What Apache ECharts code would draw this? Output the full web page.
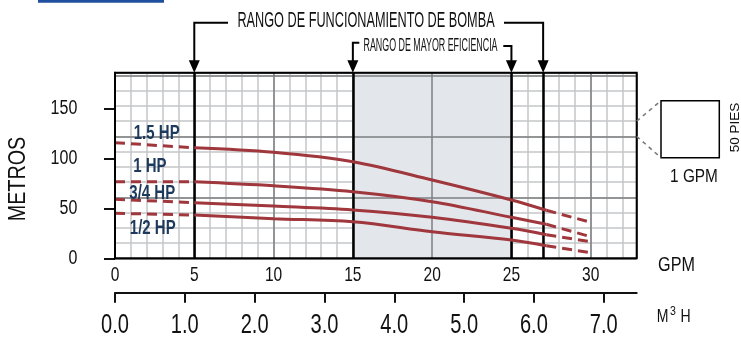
<!DOCTYPE html>
<html><head><meta charset="utf-8">
<script src="https://cdn.jsdelivr.net/npm/echarts@6/dist/echarts.min.js"></script>
<style>html,body{margin:0;padding:0;background:#fff}#c{width:741px;height:337px}</style>
</head><body><div id="c"></div>
<script>
// ---- data ----
const gpm  = [0, 5, 10, 15, 20, 25, 27.2, 30];
const hp15 = [115.6, 110.5, 106, 96.6, 78.3, 58.3, 48, 36];
const hp1  = [76.5, 76.5, 72.5, 66.6, 56.6, 41, 34, 21.6];
const hp34 = [59, 55.6, 52.2, 48.3, 41, 30, 23.5, 16.6];
const hp12 = [45, 43.3, 39.6, 36.6, 26.6, 18.3, 12.5, 5.6];
const curveNames = ['1.5 HP', '1 HP', '3/4 HP', '1/2 HP'];
const curveLabelAt = [[2.63, 125], [2.2, 91.6], [2.35, 64.3], [2.38, 30]];
const gpmTicks = [0, 5, 10, 15, 20, 25, 30];
const m3hTicks = [0, 1, 2, 3, 4, 5, 6, 7];
const metroTicks = [0, 50, 100, 150];
const pumpRange = [5, 27];
const effRange = [15, 25];
const GPM_MAX = 32.9, M_MAX = 185.6;
const FT = 0.3048;
const GPM_PER_M3H = 4.4029;

const RED = '#9f373d', NAVY = '#1d3a5c';
const SANS = '"Liberation Sans", Arial, sans-serif';

const chart = echarts.init(document.getElementById('c'), null, {renderer: 'canvas'});

const curves = [hp15, hp1, hp34, hp12];
const curveSeries = [];
curves.forEach((v, ci) => {
  const pts = gpm.map((g, i) => [g, v[i]]);
  const n = pts.length;
  const base = {type: 'line', xAxisIndex: 0, yAxisIndex: 0, symbol: 'none', silent: true, z: 5,
    animation: false, name: curveNames[ci]};
  curveSeries.push(Object.assign({}, base, {data: pts.slice(0, 2),
    lineStyle: {color: RED, width: 3, type: [10, 6]}}));
  curveSeries.push(Object.assign({}, base, {data: pts.slice(1, n - 1), smooth: 0.35,
    lineStyle: {color: RED, width: 3}}));
  curveSeries.push(Object.assign({}, base, {data: pts.slice(n - 2),
    lineStyle: {color: RED, width: 3, type: [10, 6]}}));
});

const option = {
  animation: false,
  grid: {left: 115, right: 104.3, top: 72.7, bottom: 78.7, show: false},
  xAxis: [
    {type: 'value', min: 0, max: GPM_MAX, position: 'bottom', z: 6,
      axisLine: {show: false}, axisTick: {show: false}, splitLine: {show: false},
      axisLabel: {show: false}},
    {type: 'value', min: 0, max: GPM_MAX, interval: 1, position: 'bottom', z: 1,
      axisLine: {show: false}, axisTick: {show: false}, axisLabel: {show: false},
      splitLine: {show: true, lineStyle: {color: '#c4c6c8', width: 1.5}}},
    {type: 'value', min: 0, max: GPM_MAX, interval: 5, position: 'bottom', z: 2,
      axisLine: {show: false}, axisTick: {show: false}, axisLabel: {show: false},
      splitLine: {show: true, lineStyle: {color: '#7d7f81', width: 1.5}}},
    {type: 'value', min: 0, max: GPM_MAX / GPM_PER_M3H, position: 'bottom', offset: 34.4, z: 6,
      axisLine: {show: true, lineStyle: {color: '#111', width: 2}},
      axisTick: {show: true, customValues: m3hTicks, inside: false, length: 10, lineStyle: {color: '#111', width: 2}},
      axisLabel: {show: false}, splitLine: {show: false}}
  ],
  yAxis: [
    {type: 'value', min: 0, max: M_MAX, position: 'left', offset: 18.3, z: 6,
      axisLine: {show: true, lineStyle: {color: '#111', width: 2}},
      axisTick: {show: true, customValues: metroTicks, inside: false, length: 11, lineStyle: {color: '#111', width: 2}},
      axisLabel: {show: false}, splitLine: {show: false}},
    {type: 'value', min: 0, max: M_MAX / FT, interval: 50, position: 'left', z: 1,
      axisLine: {show: false}, axisTick: {show: false}, axisLabel: {show: false},
      splitLine: {show: true, lineStyle: {color: '#c4c6c8', width: 1.5}}},
    {type: 'value', min: 0, max: M_MAX / FT, interval: 200, position: 'left', z: 2,
      axisLine: {show: false}, axisTick: {show: false}, axisLabel: {show: false},
      splitLine: {show: true, lineStyle: {color: '#7d7f81', width: 1.5}}}
  ],
  series: [
    {type: 'line', xAxisIndex: 0, yAxisIndex: 0, data: [], z: 0, silent: true,
      markArea: {silent: true, itemStyle: {color: '#e3e6ea'},
        data: [[{xAxis: effRange[0]}, {xAxis: effRange[1]}]]}},
    {type: 'line', xAxisIndex: 0, yAxisIndex: 0, data: [], z: 3, silent: true,
      markLine: {silent: true, symbol: ['none', 'none'], label: {show: false},
        lineStyle: {color: '#000', width: 2.5, type: 'solid'},
        data: [{xAxis: pumpRange[0]}, {xAxis: effRange[0]}, {xAxis: effRange[1]}, {xAxis: pumpRange[1]}]}}
  ].concat(curveSeries)
};
chart.setOption(option);

function px(x, y) { return chart.convertToPixel({xAxisIndex: 0, yAxisIndex: 0}, [x, y]); }
function txt(text, x, y, size, opt) {
  opt = opt || {};
  return {type: 'text', x: x, y: y, scaleX: opt.sx || 1, scaleY: 1, rotation: opt.rot || 0, z: 100,
    style: {text: text, fontFamily: SANS, fontSize: size, fontWeight: opt.bold ? 'bold' : 'normal',
      fill: opt.fill || '#111', align: opt.align || 'center', verticalAlign: 'middle'}};
}
const g = [];
const tl = px(0, M_MAX), br = px(GPM_MAX, 0);
const topY = tl[1];
// border
g.push({type: 'rect', z: 90, shape: {x: tl[0], y: tl[1], width: br[0] - tl[0], height: br[1] - tl[1]},
  style: {fill: 'none', stroke: '#000', lineWidth: 2}});
// top blue bar
g.push({type: 'rect', z: 90, shape: {x: 38, y: 0, width: 126, height: 2.7}, style: {fill: '#1f4f9e'}});
// tick labels, placed through the axes' own scales
gpmTicks.forEach(v => g.push(txt(String(v), px(v, 0)[0], 275.7, 21, {sx: 0.74})));
m3hTicks.forEach(v => g.push(txt(v.toFixed(1), chart.convertToPixel({xAxisIndex: 3}, v), 325, 27.5, {sx: 0.73})));
metroTicks.forEach(v => g.push(txt(String(v), 77.3, px(0, v)[1], 20, {sx: 0.8, align: 'right'})));
// brackets
const x5 = px(pumpRange[0], 0)[0], x27 = px(pumpRange[1], 0)[0];
const x15 = px(effRange[0], 0)[0], x25 = px(effRange[1], 0)[0];
const lineSt = {stroke: '#000', lineWidth: 2, fill: 'none'};
function arrow(x) {
  return {type: 'polygon', z: 95, shape: {points: [[x - 5.5, topY - 12.5], [x + 5.5, topY - 12.5], [x, topY]]}, style: {fill: '#000'}};
}
g.push({type: 'polyline', z: 95, shape: {points: [[x5, topY - 10], [x5, 22.7], [228, 22.7]]}, style: lineSt});
g.push({type: 'polyline', z: 95, shape: {points: [[504, 22.7], [x27, 22.7], [x27, topY - 10]]}, style: lineSt});
g.push({type: 'polyline', z: 95, shape: {points: [[x15, topY - 10], [x15, 42.7], [359.3, 42.7]]}, style: lineSt});
g.push({type: 'polyline', z: 95, shape: {points: [[503.3, 46], [x25, 46], [x25, topY - 10]]}, style: lineSt});
[x5, x27, x15, x25].forEach(x => g.push(arrow(x)));
g.push(txt('RANGO DE FUNCIONAMIENTO DE BOMBA', 366, 21, 22, {sx: 0.577}));
g.push(txt('RANGO DE MAYOR EFICIENCIA', 430.5, 46, 18.5, {sx: 0.48}));
// curve labels
curveNames.forEach((n, i) => {
  const p = px(curveLabelAt[i][0], curveLabelAt[i][1]);
  g.push(txt(n, p[0], p[1], 19.5, {sx: 0.77, bold: true, fill: NAVY}));
});
// y axis title
g.push(txt('METROS', 18.3, 179, 23, {sx: 0.86, rot: Math.PI / 2}));
// unit labels
g.push(txt('GPM', 676.5, 265.5, 21, {sx: 0.77}));
g.push(txt('M', 662.5, 317.3, 18.5, {sx: 0.76}));
g.push(txt('3', 673, 312, 12.5, {sx: 0.85}));
g.push(txt('H', 685.7, 317.3, 18.5, {sx: 0.76}));
// scale legend box
const yA = chart.convertToPixel({yAxisIndex: 1}, 450), yB = chart.convertToPixel({yAxisIndex: 1}, 400);
g.push({type: 'rect', z: 90, shape: {x: 661, y: 100.7, width: 58.3, height: 57}, style: {fill: 'none', stroke: '#000', lineWidth: 1.5}});
g.push({type: 'line', z: 90, shape: {x1: br[0], y1: yA, x2: 661, y2: 100.7}, style: {stroke: '#777', lineWidth: 1.5, lineDash: [4, 4]}});
g.push({type: 'line', z: 90, shape: {x1: br[0], y1: yB, x2: 661, y2: 157.7}, style: {stroke: '#777', lineWidth: 1.5, lineDash: [4, 4]}});
g.push(txt('1 GPM', 694, 176.7, 18.5, {sx: 0.83}));
g.push(txt('50 PIES', 735.5, 127.5, 13.5, {sx: 1.0, rot: Math.PI / 2}));
chart.setOption({graphic: g});
</script>
</body></html>
